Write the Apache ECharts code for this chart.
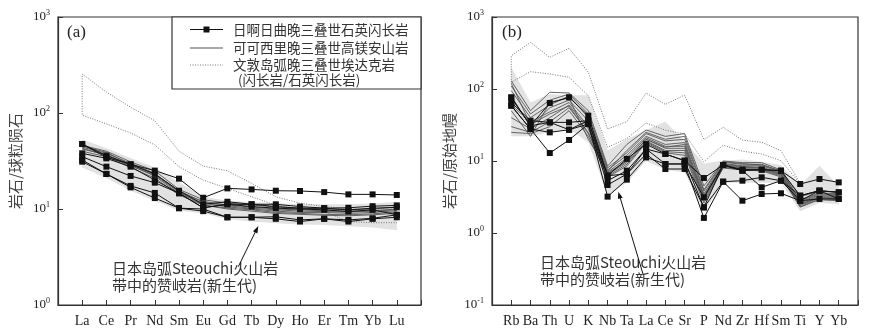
<!DOCTYPE html>
<html>
<head>
<meta charset="utf-8">
<script src="https://cdn.jsdelivr.net/npm/echarts@6/dist/echarts.min.js"></script>
<style>
  html, body { margin: 0; padding: 0; background: #fff; }
  #main { width: 872px; height: 331px; }
</style>
</head>
<body>
<div id="main"></div>
<script>
// axis categories
const reeLabels = ['La', 'Ce', 'Pr', 'Nd', 'Sm', 'Eu', 'Gd', 'Tb', 'Dy', 'Ho', 'Er', 'Tm', 'Yb', 'Lu']
const spiderLabels = ['Rb', 'Ba', 'Th', 'U', 'K', 'Nb', 'Ta', 'La', 'Ce', 'Sr', 'P', 'Nd', 'Zr', 'Hf', 'Sm', 'Ti', 'Y', 'Yb']
const reeExpRange = [0, 3]
const spiderExpRange = [-1, 3]

// (a) 球粒陨石标准化
const reeQuartzDiorite = [
  [47.5, 34.5, 29.2, 25.1, 20.7, 13.1, 16.4, 16.0, 15.5, 15.4, 15.0, 14.2, 14.2, 14.0],
  [47.5, 36.0, 29.2, 23.2, 15.5, 11.2, 11.9, 11.2, 11.2, 10.6, 10.2, 10.3, 10.7, 10.9],
  [38.0, 33.7, 27.6, 20.0, 14.6, 10.3, 11.2, 11.2, 10.6, 10.2, 10.2, 9.8, 10.2, 10.4],
  [35.1, 27.6, 22.1, 18.8, 14.6, 10.3, 11.2, 10.6, 10.2, 10.0, 9.8, 9.4, 9.8, 8.7],
  [32.4, 23.2, 17.4, 14.7, 10.2, 10.0, 8.2, 8.2, 7.9, 7.4, 7.9, 7.4, 7.9, 8.2],
  [31.1, 23.2, 16.8, 13.0, 10.2, 9.5, 8.2, 8.2, 8.3, 7.7, 7.9, 7.7, 8.0, 8.7],
]
const reeHighMgAndesite = [
  [46, 40, 31, 25, 16, 12.5, 11.5, 11, 10.5, 10.2, 10, 9.8, 10, 10.5],
  [44, 38, 30, 23.5, 15, 12, 11, 10.5, 10, 9.8, 9.6, 9.5, 9.6, 10],
  [42, 37, 28.5, 22, 14.5, 11.5, 10.5, 10, 9.5, 9.2, 9.2, 9.0, 9.2, 9.6],
  [45, 39, 29, 23, 15.5, 11.8, 10.8, 10.2, 9.8, 9.5, 9.4, 9.3, 9.5, 9.8],
  [40, 35, 27, 21, 14, 11, 10, 9.5, 9, 8.8, 8.6, 8.5, 8.7, 9.0],
  [43, 36, 28, 22.5, 15, 11, 10.2, 9.8, 9.2, 9.0, 8.8, 8.7, 8.9, 9.3],
]
const reeAdakiteUpper = [255, 165, 115, 83, 40, 28, 25, 18.5, 13.4, 11.5, 10.6, 10, 10, 10]
const reeAdakiteLower = [95, 77, 62, 46.5, 27.6, 20, 16.4, 13.4, 11, 10, 9.4, 7.4, 7.2, 7.2]
const reeSanukitoidUpper = [53, 43, 34, 27, 19, 13.5, 12.2, 11.8, 11.5, 11.3, 11.2, 11.2, 11.4, 11.9]
const reeSanukitoidLower = [27, 21, 15.5, 12.2, 9.6, 9.0, 7.8, 7.4, 7.1, 6.9, 6.8, 6.6, 6.4, 6.0]

// (b) 原始地幔标准化
const spiderQuartzDiorite = [
  [76.6, 30.9, 63.9, 76.6, 42.6, 6.26, 10.7, 17.2, 12.5, 10.1, 5.81, 8.8, 7.58, 7.58, 7.34, 4.79, 5.62, 5.05],
  [65.3, 36.3, 34.4, 34.4, 36.3, 5.33, 7.34, 14.7, 9.09, 9.09, 3.13, 8.8, 7.34, 7.58, 7.34, 3.30, 3.87, 3.67],
  [58.7, 27.8, 25.0, 27.2, 32.6, 4.64, 6.60, 12.5, 7.74, 7.74, 2.27, 5.16, 5.33, 5.93, 5.33, 2.81, 2.97, 2.97],
  [58.7, 27.8, 12.9, 19.6, 32.6, 3.20, 5.51, 11.2, 9.09, 9.09, 1.62, 5.16, 2.81, 3.48, 3.56, 2.81, 3.87, 2.97],
  [76.0, 30.9, 34.4, 27.2, 36.3, 6.26, 6.60, 14.7, 12.5, 10.1, 2.27, 8.8, 7.34, 4.31, 5.33, 3.30, 3.87, 3.67],
]
const spiderHighMgAndesite = [
  [130, 50, 90, 88, 50, 8.5, 17, 27, 22, 24, 4.5, 10, 9.5, 9.5, 7.5, 3.2, 3.8, 3.7],
  [110, 45, 70, 85, 45, 8, 13, 24, 19, 20, 3.8, 9.6, 9, 9, 7.2, 2.9, 3.6, 3.5],
  [95, 40, 60, 80, 40, 7.5, 12, 22, 17, 18, 3.5, 9.2, 8.6, 8.6, 7, 2.7, 3.4, 3.3],
  [80, 30, 55, 70, 36, 7, 11, 21, 16, 16, 3.3, 9, 8.4, 8.2, 6.8, 2.6, 3.3, 3.2],
  [60, 35, 48, 65, 30, 6.8, 10, 20, 15, 15, 3.1, 8.6, 8, 8, 6.6, 2.5, 3.2, 3.1],
  [40, 28, 40, 60, 28, 6.5, 9.5, 19, 14, 14, 3, 8.3, 7.8, 7.7, 6.4, 2.4, 3.1, 3],
  [30, 25, 35, 55, 25, 6.2, 9, 18.5, 13.5, 13, 2.8, 8.1, 7.6, 7.5, 6.2, 2.3, 3, 2.9],
  [25, 24, 30, 50, 22, 6, 8.5, 18, 13, 12, 2.6, 8, 7.5, 7.3, 6, 2.3, 2.9, 2.8],
  [50, 22, 65, 75, 20, 7.2, 14, 25, 20, 22, 4, 9.8, 9.2, 8.8, 7.3, 2.8, 3.5, 3.4],
  [120, 32, 45, 58, 24, 6.6, 10, 20, 15.5, 17, 3.2, 8.8, 8.2, 8, 6.5, 2.5, 3.1, 3.0],
]
const spiderAdakiteUpper = [290, 445, 275, 367, 171, 27.8, 35.2, 88, 61, 82.6, 19.8, 29.4, 19.5, 18.2, 13.9, 4.9]
const spiderAdakiteLower = [124, 174, 162, 145, 81, 15.5, 20.5, 33.7, 26.8, 23.7, 9.8, 16.6, 13.7, 12.5, 10.1, 4.8]
const spiderSanukitoidUpper = [200, 65, 85, 82, 82, 14, 20, 27, 35, 19, 9.2, 10.2, 10.5, 9.8, 8.8, 4.6, 8.6, 4.5]
const spiderSanukitoidLower = [22, 22, 25, 28, 18, 3.4, 5, 10, 7.5, 7, 2.0, 5, 5, 5, 5, 2.0, 2.6, 2.5]

const serif = '"Liberation Serif", "DejaVu Serif", serif'
const cjk = '"Noto Sans CJK SC", sans-serif'
const frameColor = '#333'

const pairs = (vals) => vals.map((v, i) => [i, v])

// 上界倒序 + 下界正序，连成一条虚线轮廓
const outline = (upper, lower) => {
  const pts = []
  for (let i = upper.length - 1; i >= 0; i--) pts.push([i, upper[i]])
  for (let i = 0; i < lower.length; i++) pts.push([i, lower[i]])
  return pts
}

const fieldSeries = (gi, upper, lower) => ({
  type: 'custom',
  xAxisIndex: gi,
  yAxisIndex: gi,
  silent: true,
  z: 1,
  data: [[0, 1]],
  renderItem: (params, api) => {
    const pts = []
    upper.forEach((v, i) => pts.push(api.coord([i, v])))
    for (let i = lower.length - 1; i >= 0; i--) pts.push(api.coord([i, lower[i]]))
    return { type: 'polygon', shape: { points: pts }, style: { fill: '#e2e2e2' } }
  },
})

const blackLine = (gi, vals) => ({
  type: 'line', xAxisIndex: gi, yAxisIndex: gi, data: pairs(vals),
  symbol: 'rect', symbolSize: 6, z: 5, silent: true,
  itemStyle: { color: '#111' },
  lineStyle: { color: '#111', width: 1 },
})
const grayLine = (gi, vals) => ({
  type: 'line', xAxisIndex: gi, yAxisIndex: gi, data: pairs(vals),
  symbol: 'none', z: 4, silent: true,
  lineStyle: { color: '#555', width: 0.9 },
})
const dottedLine = (gi, pts) => ({
  type: 'line', xAxisIndex: gi, yAxisIndex: gi, data: pts,
  symbol: 'none', z: 3, silent: true,
  lineStyle: { color: '#777', width: 1, type: [1, 1.5] },
})

const xAxis = (gi, labels) => ({
  type: 'value', gridIndex: gi, min: -1, max: labels.length, interval: 1,
  axisLine: { show: true, onZero: false, lineStyle: { color: frameColor, width: 1.2 } },
  axisTick: { show: true, inside: true, length: 5, lineStyle: { color: frameColor } },
  splitLine: { show: false },
  axisLabel: {
    margin: 9, color: '#222', fontFamily: serif, fontSize: 14,
    formatter: (v) => labels[v] || '',
  },
})

const yAxis = (gi, exps, name) => ({
  type: 'log', logBase: 10, gridIndex: gi,
  min: Math.pow(10, exps[0]), max: Math.pow(10, exps[1]),
  name: name, nameLocation: 'middle', nameGap: 35, nameRotate: 90,
  nameTextStyle: { fontFamily: cjk, fontSize: 15, color: '#444' },
  axisLine: { show: true, onZero: false, lineStyle: { color: frameColor, width: 1.2 } },
  axisTick: { show: true, inside: true, length: 5, lineStyle: { color: frameColor } },
  minorTick: { show: false },
  splitLine: { show: false },
  axisLabel: {
    margin: 8, color: '#222',
    formatter: (v) => '{b|10}{s|' + Math.round(Math.log10(v)) + '}',
    rich: {
      b: { fontFamily: serif, fontSize: 13, lineHeight: 16, color: '#222' },
      s: { fontFamily: serif, fontSize: 8, lineHeight: 16, verticalAlign: 'top', color: '#222', padding: [0, 0, 7, 0] },
    },
  },
})

const txt = (x, y, text, font, extra) => ({
  type: 'text', x: x, y: y, silent: true, z: 20,
  style: Object.assign({ text: text, font: font, fill: '#333', verticalAlign: 'middle' }, extra || {}),
})
const seg = (x1, y1, x2, y2, style) => ({
  type: 'line', silent: true, z: 20, shape: { x1, y1, x2, y2 },
  style: Object.assign({ stroke: '#111', lineWidth: 1 }, style || {}),
})

const graphics = [
  txt(67, 33, '(a)', '17px ' + serif, { fill: '#222' }),
  txt(502, 33, '(b)', '17px ' + serif, { fill: '#222' }),
  // 图例框
  { type: 'rect', silent: true, z: 10, shape: { x: 172, y: 17, width: 249, height: 72 },
    style: { fill: '#fff', stroke: frameColor, lineWidth: 1.2 } },
  seg(190, 29.5, 223, 29.5, { stroke: '#111' }),
  { type: 'rect', silent: true, z: 21, shape: { x: 203.5, y: 26.5, width: 6, height: 6 }, style: { fill: '#111' } },
  seg(190, 48, 223, 48, { stroke: '#555' }),
  seg(190, 65, 223, 65, { stroke: '#777', lineDash: [1, 1.5] }),
  txt(233, 29.5, '日啊日曲晚三叠世石英闪长岩', '13.5px ' + cjk),
  txt(233, 48, '可可西里晚三叠世高镁安山岩', '13.5px ' + cjk),
  txt(233, 65, '文敦岛弧晚三叠世埃达克岩', '13.5px ' + cjk),
  txt(238, 80, '(闪长岩/石英闪长岩)', '13.5px ' + cjk),
  // 注释与箭头
  txt(112, 268, '日本岛弧Steouchi火山岩', '15px ' + cjk),
  txt(112, 285, '带中的赞岐岩(新生代)', '15px ' + cjk),
  seg(238.3, 266.7, 256.5, 229.5),
  { type: 'polygon', silent: true, z: 20, shape: { points: [[258.3, 226], [257.4, 233.4], [253.0, 231.2]] }, style: { fill: '#111' } },
  txt(540, 262, '日本岛弧Steouchi火山岩', '15px ' + cjk),
  txt(540, 279, '带中的赞岐岩(新生代)', '15px ' + cjk),
  seg(643.3, 275, 619.5, 195.5),
  { type: 'polygon', silent: true, z: 20, shape: { points: [[618.3, 191.7], [622.7, 197.7], [617.9, 199.1]] }, style: { fill: '#111' } },
]

const series = [
  fieldSeries(0, reeSanukitoidUpper, reeSanukitoidLower),
  dottedLine(0, outline(reeAdakiteUpper, reeAdakiteLower)),
  ...reeHighMgAndesite.map((d) => grayLine(0, d)),
  ...reeQuartzDiorite.map((d) => blackLine(0, d)),
  fieldSeries(1, spiderSanukitoidUpper, spiderSanukitoidLower),
  dottedLine(1, outline(spiderAdakiteUpper, spiderAdakiteLower)),
  ...spiderHighMgAndesite.map((d) => grayLine(1, d)),
  ...spiderQuartzDiorite.map((d) => blackLine(1, d)),
]

const chartDom = document.getElementById('main')
const myChart = echarts.init(chartDom, null, { renderer: 'canvas' })
const option = {
  animation: false,
  backgroundColor: '#fff',
  grid: [
    { left: 58, top: 17, width: 363, height: 288, show: true, borderColor: frameColor, borderWidth: 1.2 },
    { left: 492, top: 17, width: 366, height: 288, show: true, borderColor: frameColor, borderWidth: 1.2 },
  ],
  xAxis: [xAxis(0, reeLabels), xAxis(1, spiderLabels)],
  yAxis: [yAxis(0, reeExpRange, '岩石/球粒陨石'), yAxis(1, spiderExpRange, '岩石/原始地幔')],
  series: series,
  graphic: graphics,
}
myChart.setOption(option)
</script>
</body>
</html>
